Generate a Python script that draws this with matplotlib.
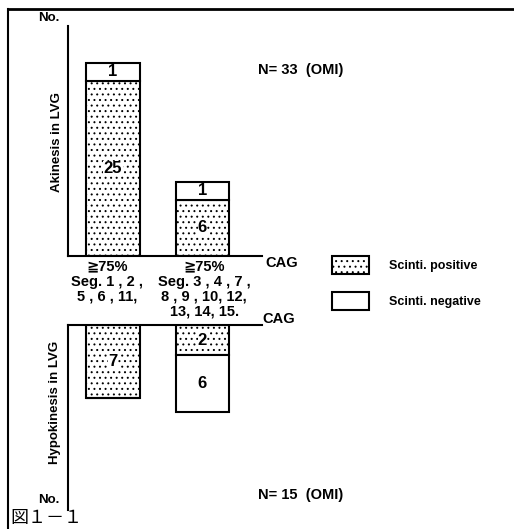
"""
Akinesis / hypokinesis in LVG vs. scintigraphy result, grouped by CAG segment.
Upper panel: akinesis (N=33), lower panel (mirrored): hypokinesis (N=15).
"""

import matplotlib
matplotlib.use("Agg")
import matplotlib.pyplot as plt

# ── Data ─────────────────────────────────────────────────────────────────────

GROUPS = ["≧75%\nSeg. 1 , 2 ,\n5 , 6 , 11,",
          "≧75%\nSeg. 3 , 4 , 7 ,\n8 , 9 , 10, 12,\n13, 14, 15."]

# counts printed in the segments
AKI_POS = [25, 6]
AKI_NEG = [1, 1]
HYPO_POS = [7, 2]
HYPO_NEG = [0, 6]

# segment lengths as drawn in the original (schematic, not to scale)
AKI_POS_H = [25.0, 8.0]
AKI_NEG_H = [2.6, 2.6]
HYPO_POS_H = [10.4, 4.3]
HYPO_NEG_H = [0.0, 8.1]

N_AKI = 33
N_HYPO = 15

# ── Style ────────────────────────────────────────────────────────────────────

plt.rcParams["font.family"] = ["Liberation Sans", "DejaVu Sans", "Noto Sans CJK JP"]
plt.rcParams["font.weight"] = "bold"
plt.rcParams["hatch.linewidth"] = 0.7
plt.rcParams["hatch.color"] = "#555555"

W, H = 514, 529
fig = plt.figure(figsize=(W / 100, H / 100), dpi=100)


def fx(px):
    return px / W


def fy(py):
    return 1 - py / H


def ax_at(x0, y0, x1, y1):
    # axes from pixel box (top-left origin)
    return fig.add_axes([fx(x0), fy(y1), fx(x1 - x0), (y1 - y0) / H])


POS_KW = dict(color="white", edgecolor="black", hatch="...", linewidth=1.5)
NEG_KW = dict(color="white", edgecolor="black", linewidth=1.5)
XPOS = [0, 1]
LABEL_DX = [-0.07, 0.02]
WIDTH = 0.6
XLIM = (-0.503, 1.665)
UNIT = 7.0  # px per drawn unit
FS = 10.5
FS_NUM = 12

# ── Upper panel: akinesis ────────────────────────────────────────────────────

ax1 = ax_at(68, 26, 262, 256)
b_pos = ax1.bar(XPOS, AKI_POS_H, WIDTH, label="Scinti. positive", **POS_KW)
b_neg = ax1.bar(XPOS, AKI_NEG_H, WIDTH, bottom=AKI_POS_H, label="Scinti. negative", **NEG_KW)
for x, hp, hn, cp, cn in zip(XPOS, AKI_POS_H, AKI_NEG_H, AKI_POS, AKI_NEG):
    ax1.text(x, hp / 2, str(cp), ha="center", va="center", fontsize=FS_NUM,
             bbox=dict(facecolor="white", edgecolor="none", pad=0.3))
    ax1.text(x, hp + hn / 2, str(cn), ha="center", va="center", fontsize=FS_NUM)
ax1.set_xlim(*XLIM)
ax1.set_ylim(0, 230 / UNIT)
for s in ["top", "right"]:
    ax1.spines[s].set_visible(False)
for s in ["left", "bottom"]:
    ax1.spines[s].set_linewidth(1.5)
ax1.set_xticks([])
ax1.set_yticks([])

# ── Lower panel: hypokinesis (mirrored) ──────────────────────────────────────

ax2 = ax_at(68, 325, 262, 510)
ax2.bar(XPOS, HYPO_POS_H, WIDTH, **POS_KW)
ax2.bar(XPOS, HYPO_NEG_H, WIDTH, bottom=HYPO_POS_H, **NEG_KW)
for x, hp, hn, cp, cn in zip(XPOS, HYPO_POS_H, HYPO_NEG_H, HYPO_POS, HYPO_NEG):
    if cp:
        ax2.text(x, hp / 2, str(cp), ha="center", va="center", fontsize=FS_NUM,
                 bbox=dict(facecolor="white", edgecolor="none", pad=0.3))
    if cn:
        ax2.text(x, hp + hn / 2, str(cn), ha="center", va="center", fontsize=FS_NUM)
ax2.set_xlim(*XLIM)
ax2.set_ylim(185 / UNIT, 0)
for s in ["bottom", "right"]:
    ax2.spines[s].set_visible(False)
for s in ["left", "top"]:
    ax2.spines[s].set_linewidth(1.5)
ax2.set_xticks([])
ax2.set_yticks([])

# ── Group labels between panels ──────────────────────────────────────────────

for x, dx, lab in zip(XPOS, LABEL_DX, GROUPS):
    ax1.text(x + dx, -0.016, lab, transform=ax1.get_xaxis_transform(), ha="center",
             va="top", fontsize=FS, linespacing=1.08)

# ── Texts ────────────────────────────────────────────────────────────────────

fig.text(fx(57), fy(142), "Akinesis in LVG", rotation=90, ha="center", va="center", fontsize=9.5)
fig.text(fx(55), fy(402), "Hypokinesis in LVG", rotation=90, ha="center", va="center", fontsize=9.5)
fig.text(fx(38), fy(18), "No.", ha="left", va="center", fontsize=9.5)
fig.text(fx(38), fy(500), "No.", ha="left", va="center", fontsize=9.5)
fig.text(fx(265), fy(263), "CAG", ha="left", va="center", fontsize=FS)
fig.text(fx(262), fy(319), "CAG", ha="left", va="center", fontsize=FS)
fig.text(fx(258), fy(70), f"N= {N_AKI}  (OMI)", ha="left", va="center", fontsize=10.5)
fig.text(fx(258), fy(495), f"N= {N_HYPO}  (OMI)", ha="left", va="center", fontsize=10.5)
fig.text(fx(10), fy(518), "図１－１", ha="left", va="center", fontsize=13,
         family=["Noto Sans CJK JP", "DejaVu Sans"], fontweight="normal")

# ── Legend ───────────────────────────────────────────────────────────────────

fig.legend([b_pos, b_neg], ["Scinti. positive", "Scinti. negative"],
           loc="upper left", bbox_to_anchor=(fx(323), fy(247)), frameon=False,
           fontsize=9, handlelength=3.0, handleheight=1.9, labelspacing=1.4,
           handletextpad=1.6, borderpad=0.2)

# ── Frame ────────────────────────────────────────────────────────────────────

fig.add_artist(plt.Line2D([fx(8), fx(8)], [fy(9), fy(529)], color="black", lw=1.5))
fig.add_artist(plt.Line2D([fx(8), fx(514)], [fy(9), fy(9)], color="black", lw=2))

fig.savefig("out.png", dpi=100)
